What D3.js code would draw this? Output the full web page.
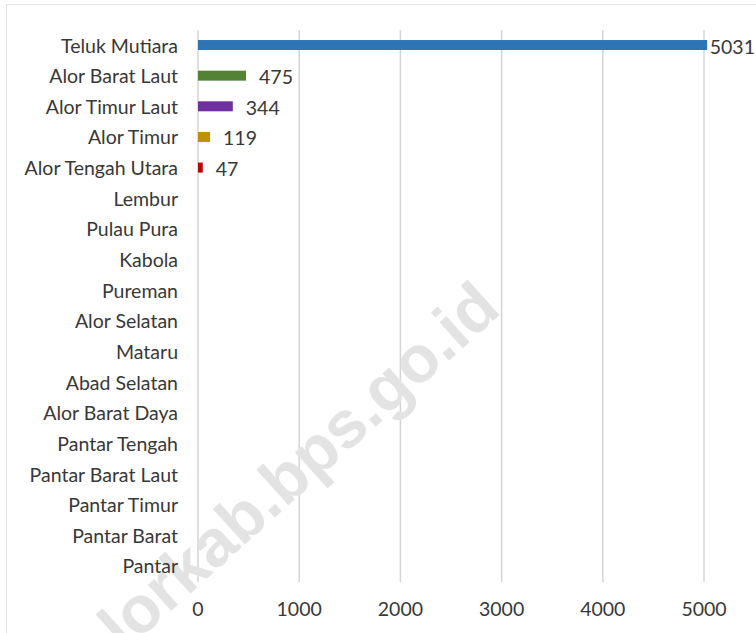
<!DOCTYPE html>
<html>
<head>
<meta charset="utf-8">
<script src="https://cdnjs.cloudflare.com/ajax/libs/d3/7.8.5/d3.min.js"></script>
<style>
  html, body { margin: 0; padding: 0; background: #fff; overflow: hidden; }
  svg { display: block; }
</style>
</head>
<body>
<svg id="viz"></svg>
<script>
const width = 756, height = 633;

// data
const kecamatan = ["Teluk Mutiara", "Alor Barat Laut", "Alor Timur Laut", "Alor Timur",
  "Alor Tengah Utara", "Lembur", "Pulau Pura", "Kabola", "Pureman", "Alor Selatan",
  "Mataru", "Abad Selatan", "Alor Barat Daya", "Pantar Tengah", "Pantar Barat Laut",
  "Pantar Timur", "Pantar Barat", "Pantar"];
const nilai = [5031, 475, 344, 119, 47, 0, 0, 0, 0, 0, 0, 0, 0, 0, 0, 0, 0, 0];
const warna = ["#2E75B6", "#548235", "#7030A0", "#BF9000", "#C00000"];
const ticks = [0, 1000, 2000, 3000, 4000, 5000];

const data = kecamatan.map((k, i) => ({ name: k, value: nilai[i], color: warna[i] || "#999" }));

const svg = d3.select("#viz")
  .attr("width", width)
  .attr("height", height);

// dotted chart border
svg.append("rect")
  .attr("x", 6.5).attr("y", 4.5)
  .attr("width", 800).attr("height", 700)
  .attr("fill", "none")
  .attr("stroke", "#c8c8c8")
  .attr("stroke-dasharray", "1,1");

const x = d3.scaleLinear().domain([0, 5000]).range([198, 704]);
const y = d3.scaleBand().domain(kecamatan).range([29.7, 581.3]).paddingInner(0.674).paddingOuter(0.337);

// gridlines
svg.append("g").selectAll("line")
  .data(ticks)
  .enter().append("line")
  .attr("x1", d => x(d)).attr("x2", d => x(d))
  .attr("y1", 30).attr("y2", 582)
  .attr("stroke", "#d4d4d4")
  .attr("stroke-width", 1.5);

// watermark
svg.append("text")
  .attr("transform", "translate(503,312) rotate(-42)")
  .attr("text-anchor", "end")
  .style("font-family", "'Liberation Sans', Arial, sans-serif")
  .style("font-weight", "bold")
  .style("font-size", "66px")
  .attr("fill", "#e3e3e3")
  .text("alorkab.bps.go.id");

const font = "Lato, sans-serif", fsize = "19.5px", ink = "#383838";

// category labels
svg.append("g").selectAll("text")
  .data(data)
  .enter().append("text")
  .attr("x", 178)
  .attr("y", d => y(d.name) + y.bandwidth() / 2)
  .attr("text-anchor", "end")
  .attr("dominant-baseline", "central")
  .style("font-family", font)
  .style("font-size", fsize)
  .attr("fill", ink)
  .text(d => d.name);

// bars
svg.append("g").selectAll("rect")
  .data(data.filter(d => d.value > 0))
  .enter().append("rect")
  .attr("x", x(0))
  .attr("y", d => y(d.name))
  .attr("width", d => x(d.value) - x(0))
  .attr("height", y.bandwidth())
  .attr("fill", d => d.color);

// value labels
const lbl = svg.append("g").selectAll("text")
  .data(data.filter(d => d.value > 0))
  .enter().append("text")
  .attr("y", d => y(d.name) + y.bandwidth() / 2 + 1)
  .attr("dominant-baseline", "central")
  .style("font-family", font)
  .style("font-size", fsize)
  .attr("fill", ink)
  .text(d => d.value);
lbl.attr("x", function(d) {
  const w = this.getComputedTextLength();
  return Math.min(x(d.value) + 13, width - w - 1);
});

// x tick labels
svg.append("g").selectAll("text")
  .data(ticks)
  .enter().append("text")
  .attr("x", d => x(d))
  .attr("y", 608)
  .attr("text-anchor", "middle")
  .attr("dominant-baseline", "central")
  .style("font-family", font)
  .style("font-size", fsize)
  .attr("fill", ink)
  .text(d => d);
</script>
</body>
</html>
